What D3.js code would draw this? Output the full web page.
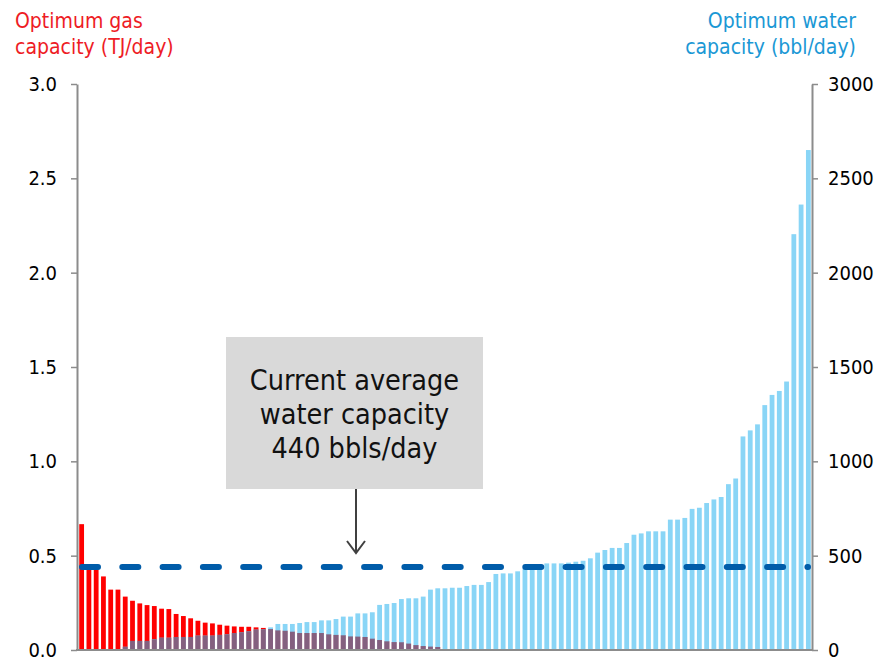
<!DOCTYPE html>
<html>
<head>
<meta charset="utf-8">
<script src="https://cdn.jsdelivr.net/npm/d3@7"></script>
<style>
  html, body { margin: 0; padding: 0; background: #ffffff; }
  svg { display: block; }
  text { font-family: Tahoma, "DejaVu Sans Condensed", "DejaVu Sans", sans-serif; font-stretch: condensed; }
</style>
</head>
<body>
<svg id="chart" width="881" height="659"></svg>
<script>
// Optimum gas capacity per well (TJ/day), wells sorted by gas capacity
const gasCapacity = [
  0.667, 0.45, 0.44, 0.39, 0.32, 0.32, 0.283, 0.261, 0.247, 0.238,
  0.233, 0.219, 0.217, 0.191, 0.180, 0.168, 0.155, 0.145, 0.141, 0.134,
  0.129, 0.125, 0.123, 0.123, 0.120, 0.117, 0.111, 0.104, 0.102, 0.097,
  0.090, 0.090, 0.090, 0.090, 0.083, 0.080, 0.078, 0.072, 0.071, 0.069,
  0.060, 0.053, 0.046, 0.042, 0.041, 0.034, 0.026, 0.021, 0.018, 0.016,
  0, 0, 0, 0, 0, 0, 0, 0, 0, 0,
  0, 0, 0, 0, 0, 0, 0, 0, 0, 0,
  0, 0, 0, 0, 0, 0, 0, 0, 0, 0,
  0, 0, 0, 0, 0, 0, 0, 0, 0, 0,
  0, 0, 0, 0, 0, 0, 0, 0, 0, 0,
  0
];

// Optimum water capacity per well (bbl/day)
const waterCapacity = [
  0, 0, 0, 0, 0, 0, 17, 48, 48, 48,
  57, 65, 65, 69, 69, 69, 76, 76, 76, 80,
  83, 90, 94, 99, 108, 110, 120, 138, 138, 138,
  143, 148, 148, 157, 157, 164, 177, 177, 194, 194,
  200, 239, 244, 249, 270, 274, 274, 283, 320, 327,
  327, 330, 330, 339, 345, 345, 360, 403, 406, 406,
  417, 431, 443, 447, 459, 459, 459, 463, 468, 473,
  486, 516, 530, 541, 541, 567, 611, 618, 629, 629,
  629, 691, 691, 700, 748, 754, 779, 798, 811, 879,
  909, 1132, 1164, 1196, 1298, 1352, 1373, 1423, 2204, 2361,
  2650
];

const gasTicks = [0, 0.5, 1.0, 1.5, 2.0, 2.5, 3.0];
const waterTicks = [0, 500, 1000, 1500, 2000, 2500, 3000];
const averageWater = 440;
const gasTitle = ["Optimum gas", "capacity (TJ/day)"];
const waterTitle = ["Optimum water", "capacity (bbl/day)"];
const noteLines = ["Current average", "water capacity", "440 bbls/day"];

const svg = d3.select("#chart");
const plotLeft = 77, plotRight = 812, plotTop = 84, plotBottom = 650;

const wells = d3.range(gasCapacity.length);
const x = d3.scaleBand().domain(wells).range([plotLeft + 1, plotRight]).paddingInner(0.34).paddingOuter(0.17);
const yGas = d3.scaleLinear().domain([0, 3]).range([plotBottom, plotTop]);
const yWater = d3.scaleLinear().domain([0, 3000]).range([plotBottom, plotTop]);

const RED = "#ff0000", BLUE = "#89d5f6", OVERLAP = "#84607f";

// gas bars
svg.append("g").selectAll("rect").data(wells).join("rect")
  .attr("x", i => x(i)).attr("width", x.bandwidth())
  .attr("y", i => yGas(gasCapacity[i]))
  .attr("height", i => plotBottom - yGas(gasCapacity[i]))
  .attr("fill", RED);

// water bars
svg.append("g").selectAll("rect").data(wells).join("rect")
  .attr("x", i => x(i)).attr("width", x.bandwidth())
  .attr("y", i => yWater(waterCapacity[i]))
  .attr("height", i => plotBottom - yWater(waterCapacity[i]))
  .attr("fill", BLUE);

// where both bars share space the colours mix
svg.append("g").selectAll("rect").data(wells).join("rect")
  .attr("x", i => x(i)).attr("width", x.bandwidth())
  .attr("y", i => Math.max(yGas(gasCapacity[i]), yWater(waterCapacity[i])))
  .attr("height", i => plotBottom - Math.max(yGas(gasCapacity[i]), yWater(waterCapacity[i])))
  .attr("fill", OVERLAP);

// average water capacity line
const yAvg = yWater(averageWater);
svg.append("line")
  .attr("x1", plotLeft + 5).attr("x2", plotRight - 4)
  .attr("y1", yAvg).attr("y2", yAvg)
  .attr("stroke", "#005ca9").attr("stroke-width", 6)
  .attr("stroke-linecap", "round")
  .attr("stroke-dasharray", "16 24.3");

// axes
function styleAxis(g) {
  g.select(".domain").attr("stroke", "#8c8c8c").attr("stroke-width", 2);
  g.selectAll(".tick line").attr("stroke", "#8c8c8c").attr("stroke-width", 1.5);
  g.selectAll(".tick text").attr("fill", "#000").style("font-size", "20px");
}

svg.append("g").attr("transform", `translate(${plotLeft},0)`)
  .call(d3.axisLeft(yGas).tickValues(gasTicks).tickFormat(d3.format(".1f")).tickSize(6).tickSizeOuter(0).tickPadding(14))
  .call(styleAxis);

svg.append("g").attr("transform", `translate(${plotRight},0)`)
  .call(d3.axisRight(yWater).tickValues(waterTicks).tickFormat(d3.format("d")).tickSize(6).tickSizeOuter(0).tickPadding(10))
  .call(styleAxis);

svg.append("line")
  .attr("x1", plotLeft - 1).attr("x2", plotRight + 1)
  .attr("y1", plotBottom).attr("y2", plotBottom)
  .attr("stroke", "#8c8c8c").attr("stroke-width", 2);

// axis titles
svg.append("text").attr("x", 15).attr("y", 28).attr("fill", "#ee1c25").style("font-size", "21px")
  .selectAll("tspan").data(gasTitle).join("tspan")
  .attr("x", 15).attr("dy", (d, i) => i ? 26 : 0).text(d => d);

svg.append("text").attr("x", 856).attr("y", 28).attr("fill", "#1b98d5").style("font-size", "21px")
  .attr("text-anchor", "end")
  .selectAll("tspan").data(waterTitle).join("tspan")
  .attr("x", 856).attr("dy", (d, i) => i ? 26 : 0).text(d => d);

// callout box with arrow down to the average line
const box = { x: 226, y: 337, w: 257, h: 152 };
svg.append("rect").attr("x", box.x).attr("y", box.y).attr("width", box.w).attr("height", box.h)
  .attr("fill", "#d9d9d9");

svg.append("text").attr("text-anchor", "middle").attr("fill", "#111").style("font-size", "28.5px")
  .selectAll("tspan").data(noteLines).join("tspan")
  .attr("x", box.x + box.w / 2).attr("y", (d, i) => 390 + i * 34).text(d => d);

const ax = 356;
svg.append("line").attr("x1", ax).attr("x2", ax).attr("y1", box.y + box.h).attr("y2", 553)
  .attr("stroke", "#404040").attr("stroke-width", 2);
svg.append("path").attr("d", `M${ax - 9},${541} L${ax},${553} L${ax + 9},${541}`)
  .attr("fill", "none").attr("stroke", "#404040").attr("stroke-width", 2);
</script>
</body>
</html>
